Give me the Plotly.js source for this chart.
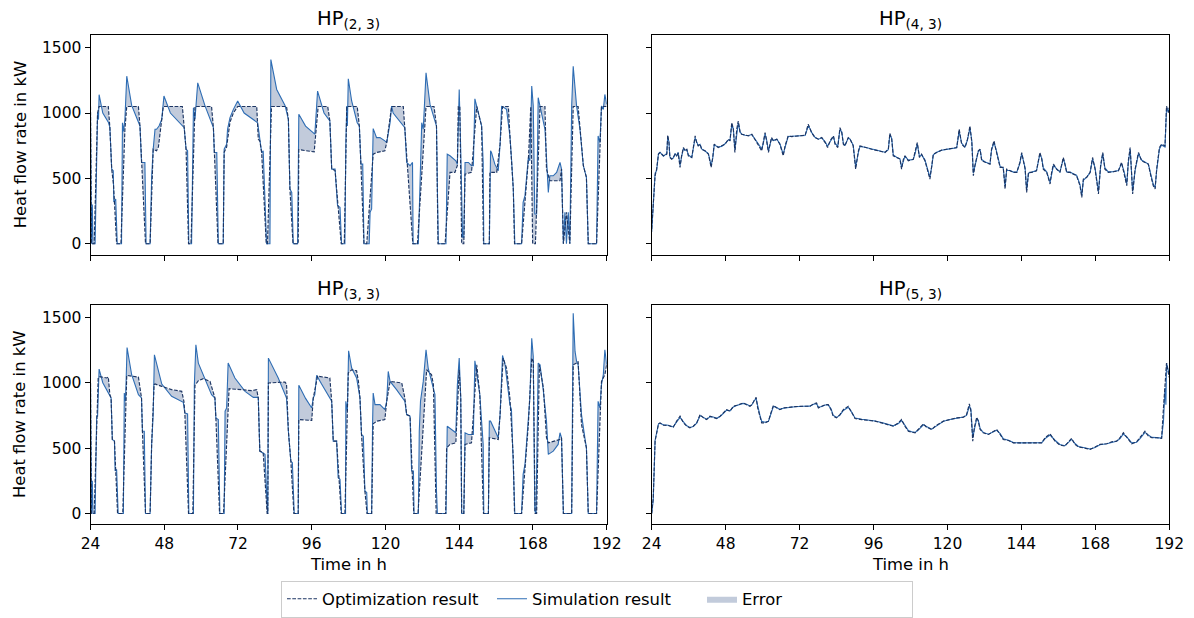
<!DOCTYPE html>
<html><head><meta charset="utf-8">
<script src="https://cdn.plot.ly/plotly-3.0.1.min.js"></script>
<style>html,body{margin:0;padding:0;background:#fff}#chart{width:1194px;height:618px}</style>
</head><body><div id="chart"></div>
<script>
// ---------- data (time in h, heat flow rate in kW) ----------
const hourTicks = [24, 48, 72, 96, 120, 144, 168, 192];
const powerTicks = [0, 500, 1000, 1500];
const panelTitles = ['HP<sub>(2, 3)</sub>', 'HP<sub>(4, 3)</sub>', 'HP<sub>(3, 3)</sub>', 'HP<sub>(5, 3)</sub>'];
const legendNames = ['Optimization result', 'Simulation result', 'Error'];

// HP(2,3): [t, value]
const opt23 = [[24,1050],[24.3,0],[25.2,0],[26.3,1000],[26.8,1050],[29.8,1050],[30.3,890],[30.9,571],[31.5,450],[32.5,0],[33.9,0],[35.2,876],[35.8,1050],[39.6,1050],[40.1,900],[40.6,622],[41.9,0],[43.4,0],[44.4,723],[45.5,711],[46.1,740],[47.7,1050],[53.9,1050],[54.5,888],[55.1,723],[55.9,0],[56.7,0],[58.0,1050],[63.4,1050],[64.0,888],[64.3,698],[65.5,0],[67.2,0],[67.5,700],[68.3,740],[69.4,930],[70.5,1000],[71.9,1050],[78.1,1050],[78.6,800],[79.1,787],[79.7,698],[81.2,0],[81.6,0],[82.9,1050],[87.8,1050],[88.4,952],[88.9,419],[89.9,0],[91.6,0],[91.8,720],[96.8,703],[98.1,1050],[101.2,1050],[101.9,939],[102.5,571],[103.6,560],[105.6,0],[106.6,0],[107.4,1050],[110.8,1050],[111.5,901],[112.0,609],[113.0,0],[113.9,0],[116.0,685],[117.1,698],[119.8,711],[120.4,774],[122.0,1050],[125.8,1050],[126.3,888],[126.9,622],[128.9,0],[130.4,0],[133.2,1050],[135.8,1050],[136.6,901],[137.1,0],[139.4,0],[141.0,546],[142.6,546],[143.4,600],[143.7,1050],[144.2,1050],[144.8,0],[145.5,0],[145.9,533],[148.0,546],[149.7,1050],[151.3,900],[151.9,0],[153.8,0],[154.0,546],[156.2,546],[157.3,762],[158.1,1050],[160.0,1050],[160.5,825],[161.6,419],[162.0,0],[164.3,0],[166.5,640],[167.3,1050],[167.9,0],[168.8,0],[170.3,1050],[171.9,1050],[172.4,571],[173.5,482],[176.8,482],[177.3,571],[177.9,0],[178.9,241],[180.0,0],[181.1,1050],[182.7,1050],[183.3,876],[184.4,597],[185.4,508],[186.0,0],[188.7,0],[190.3,1050],[192,1050]];
const sim23 = [[24,1000],[24.3,0],[24.6,300],[24.8,0],[25.5,0],[25.9,500],[26.3,1000],[26.6,950],[26.8,1140],[28.0,1000],[29.8,930],[30.3,890],[30.9,571],[31.4,558],[31.6,320],[32.2,343],[32.7,0],[34.1,0],[34.4,925],[34.7,860],[35.2,952],[35.8,1282],[37.4,1058],[40.1,901],[40.6,622],[41.7,622],[42.1,0],[43.4,0],[43.9,508],[44.4,723],[45.0,876],[45.5,876],[46.3,901],[47.2,952],[47.9,1130],[50.0,1000],[54.5,888],[55.1,723],[55.6,711],[56.0,0],[56.9,0],[57.5,1041],[58.0,952],[58.9,1231],[61.3,1053],[64.0,888],[64.3,698],[65.1,698],[65.6,0],[67.2,0],[67.5,723],[68.3,762],[68.6,876],[69.4,965],[70.5,1028],[71.9,1092],[74.0,1000],[78.4,926],[79.1,787],[79.7,698],[80.2,711],[81.3,0],[82.4,0],[82.7,1409],[84.6,1180],[87.3,1058],[88.4,952],[88.9,419],[89.5,393],[90.0,0],[91.4,0],[91.8,990],[94.0,900],[97.0,838],[97.6,1053],[97.9,1168],[100.0,1000],[101.9,939],[102.5,571],[103.6,571],[104.4,292],[105.2,279],[105.7,0],[106.8,0],[107.1,762],[107.4,1053],[107.6,901],[107.9,1262],[109.0,1092],[110.8,926],[111.5,901],[112.0,609],[112.6,609],[113.0,0],[114.7,0],[115.0,241],[115.5,266],[116.0,881],[117.1,812],[118.2,812],[119.8,787],[120.4,774],[121.5,926],[122.0,1053],[122.5,1000],[126.3,888],[126.9,622],[128.0,597],[128.8,622],[129.0,0],[130.7,0],[131.2,393],[131.8,926],[132.3,876],[133.2,1307],[134.5,1066],[136.6,901],[136.9,419],[137.2,0],[139.7,0],[139.9,495],[140.1,685],[141.0,673],[142.1,647],[142.9,635],[143.4,609],[144.0,1180],[144.5,711],[145.1,51],[145.5,51],[145.9,622],[147.0,622],[148.0,597],[148.6,597],[149.1,1109],[151.3,901],[151.8,622],[152.0,0],[153.8,0],[154.2,711],[154.5,698],[155.6,609],[156.7,558],[157.3,762],[157.8,1053],[159.4,1028],[160.5,825],[161.1,622],[161.6,419],[162.1,0],[164.3,0],[164.8,317],[165.4,368],[166.5,660],[167.0,635],[167.6,1206],[168.1,1053],[168.6,228],[169.2,228],[169.7,1117],[170.3,1053],[171.9,876],[172.4,660],[173.0,393],[173.5,520],[174.6,520],[175.7,546],[176.8,622],[177.3,571],[177.9,0],[178.4,241],[178.9,0],[179.5,241],[180.0,0],[180.6,1053],[181.1,1358],[182.2,1053],[183.3,876],[184.4,597],[185.4,508],[186.0,0],[188.7,0],[189.2,825],[189.8,774],[190.3,1053],[190.9,1028],[191.4,1142],[192,1066]];

// HP(3,3): [t, value]
const opt33 = [[24,998],[24.3,0],[25.2,0],[26.5,1036],[27.1,1046],[29.3,1036],[29.8,1043],[30.3,909],[30.7,883],[31.1,566],[31.8,553],[32.8,0],[34.5,0],[35.8,1056],[39.6,1043],[40.6,883],[40.9,629],[41.9,0],[43.4,0],[43.9,528],[44.7,985],[45.0,990],[47.2,972],[50.4,947],[53.7,934],[54.4,858],[54.7,769],[55.9,0],[57.3,0],[58.0,980],[59.1,1015],[60.7,1031],[62.9,1010],[64.0,909],[64.5,883],[64.8,731],[66.0,0],[67.3,0],[69.1,954],[73.2,947],[76.4,939],[78.1,947],[78.6,883],[79.1,477],[80.2,464],[81.5,0],[81.7,0],[81.9,998],[87.3,1005],[87.8,990],[88.4,629],[89.2,401],[90.2,0],[91.6,0],[91.8,718],[96.0,711],[96.5,883],[97.9,1050],[101.9,1036],[102.5,858],[103.0,553],[104.1,553],[105.6,0],[106.8,0],[107.9,1074],[109.0,1099],[110.6,1091],[111.2,1010],[111.7,883],[112.2,604],[113.3,172],[114.0,0],[115.5,0],[116.0,685],[117.1,705],[119.8,718],[120.4,858],[121.5,1010],[125.3,998],[126.3,883],[126.9,756],[128.0,744],[129.2,0],[130.6,0],[133.4,1099],[135.0,1061],[135.6,985],[136.5,0],[139.6,0],[139.9,502],[141.0,528],[142.9,540],[143.4,800],[144.0,1099],[144.5,883],[144.8,0],[145.5,0],[145.9,528],[148.0,540],[149.7,1137],[150.7,909],[151.9,0],[153.5,0],[153.8,579],[156.7,566],[157.3,756],[158.3,1188],[159.4,1112],[160.5,883],[161.6,426],[162.0,0],[164.3,0],[166.5,680],[167.6,1188],[168.1,1163],[168.7,0],[169.2,0],[170.1,1137],[171.4,960],[172.4,579],[173.0,540],[176.8,566],[177.3,579],[177.9,0],[180.6,0],[181.1,1137],[182.2,1150],[182.7,1163],[183.8,680],[185.4,502],[186.0,0],[188.7,0],[190.3,1010],[191.4,1061],[192,1137]];
const sim33 = [[24,998],[24.3,0],[24.6,250],[24.8,0],[25.5,0],[26.0,744],[26.3,744],[26.8,1104],[28.0,1000],[30.3,909],[30.7,883],[31.1,566],[31.8,553],[32.0,325],[32.5,337],[33.0,0],[34.7,0],[35.0,921],[35.4,858],[35.9,1269],[37.4,1061],[39.6,909],[40.6,883],[40.9,629],[41.5,629],[41.9,0],[43.4,0],[43.9,528],[44.4,756],[44.8,1213],[47.2,990],[50.4,896],[54.2,850],[54.7,769],[55.6,761],[56.0,0],[57.5,0],[57.8,985],[58.3,1290],[59.1,1150],[60.7,1061],[63.4,909],[64.5,883],[64.8,731],[65.6,718],[66.1,0],[67.5,0],[67.8,782],[68.3,807],[68.8,1150],[71.0,1036],[74.3,934],[77.0,888],[78.6,888],[79.1,477],[80.2,464],[80.8,452],[81.6,0],[81.7,0],[81.9,1188],[82.9,1137],[85.1,1036],[87.8,883],[88.4,629],[89.2,401],[89.7,388],[90.3,0],[91.6,0],[91.8,980],[94.0,880],[96.0,807],[96.5,883],[97.0,909],[97.6,1056],[99.2,990],[102.5,858],[103.0,553],[104.1,553],[104.6,274],[105.2,261],[105.7,0],[107.0,0],[107.1,858],[107.6,782],[108.0,1244],[109.0,1112],[110.6,1036],[111.2,934],[111.7,883],[112.2,604],[112.8,591],[113.3,172],[113.9,160],[114.1,0],[115.5,0],[115.8,680],[116.0,921],[116.6,832],[118.2,832],[119.8,794],[120.4,858],[120.9,1086],[121.5,1010],[123.6,947],[126.3,858],[126.9,756],[128.0,744],[128.5,325],[129.1,325],[129.3,0],[130.7,0],[131.0,629],[131.4,858],[132.3,1010],[133.2,1251],[133.9,1112],[135.6,960],[136.1,909],[136.6,172],[136.9,0],[139.7,0],[139.9,502],[140.1,667],[141.5,642],[142.9,617],[143.4,985],[144.0,1188],[144.5,883],[144.8,0],[145.5,0],[145.9,617],[147.0,604],[148.6,604],[149.1,1168],[150.7,909],[151.8,528],[152.0,0],[153.5,0],[153.8,706],[154.2,706],[155.1,655],[156.7,579],[157.3,756],[158.1,1208],[158.9,1137],[160.5,832],[161.0,794],[161.6,426],[162.1,0],[164.3,0],[164.8,299],[165.4,375],[166.5,680],[167.0,883],[167.6,1340],[168.1,1200],[168.6,20],[169.0,0],[169.7,1150],[170.3,1137],[171.4,934],[172.4,706],[173.0,452],[174.6,477],[176.2,528],[176.8,617],[177.3,579],[177.9,0],[180.6,0],[181.1,1531],[181.7,1239],[182.2,1163],[182.7,1137],[183.8,756],[184.9,579],[185.4,502],[186.0,0],[188.7,0],[189.2,858],[189.8,807],[190.3,985],[190.9,1061],[191.4,1251],[192,1137]];

// HP(4,3): [t, optimization, simulation]
const hp43 = [[24,114,90],[24.5,317,300],[25.1,520,540],[25.6,571,560],[26.2,685,690],[26.7,698,700],[27.8,673,670],[28.9,685,690],[29.2,830,820],[29.6,774,780],[29.9,660,665],[30.5,647,650],[31.0,660,655],[31.6,685,690],[32.1,673,670],[32.6,693,700],[33.2,584,600],[33.7,673,665],[34.3,736,730],[34.8,711,715],[35.4,723,720],[35.9,673,680],[37.0,660,660],[38.1,825,810],[38.6,774,780],[39.1,749,750],[39.7,762,760],[40.2,723,725],[41.3,711,710],[42.4,685,690],[43.3,584,600],[43.8,660,650],[44.3,762,755],[45.6,736,740],[46.7,749,745],[47.8,762,765],[48.9,800,795],[49.4,787,790],[50.0,927,910],[50.5,876,880],[51.0,698,720],[51.6,876,860],[52.1,939,925],[52.7,850,855],[53.2,838,840],[54.3,830,830],[55.4,825,828],[56.5,838,835],[57.5,800,805],[58.6,762,765],[59.7,711,725],[60.2,774,765],[60.8,850,840],[61.3,787,795],[61.9,698,710],[62.4,762,755],[62.9,812,805],[63.5,787,790],[64.6,800,800],[65.6,762,765],[66.7,673,685],[67.3,749,740],[68.3,825,820],[69.4,820,822],[71.6,825,825],[73.8,830,828],[74.8,914,900],[75.4,876,880],[75.9,850,852],[77.0,812,815],[78.1,800,800],[79.2,812,810],[80.3,774,780],[81.1,736,745],[81.9,787,780],[83.0,825,820],[83.5,762,770],[84.4,736,745],[85.1,888,875],[85.7,850,855],[86.2,762,770],[86.7,749,750],[87.8,812,808],[88.4,800,800],[89.4,749,755],[90.2,571,590],[91.1,711,700],[91.6,749,745],[93.2,736,738],[95.4,723,725],[97.6,711,712],[99.7,698,700],[100.8,723,720],[101.3,845,835],[101.9,800,805],[102.4,673,680],[103.5,660,662],[104.6,647,650],[105.1,571,585],[105.7,647,640],[106.2,673,670],[107.3,635,640],[108.9,647,645],[109.5,698,690],[110.2,774,765],[110.9,660,668],[111.6,685,680],[112.7,635,640],[113.8,546,560],[114.3,495,510],[114.9,597,590],[115.4,685,680],[116.5,698,700],[118.1,716,715],[119.7,723,722],[121.4,728,728],[123.0,736,735],[123.8,876,860],[124.6,762,770],[125.7,736,740],[126.5,800,795],[127.3,901,885],[127.9,774,790],[128.4,520,540],[128.9,597,590],[130.0,711,705],[130.6,723,720],[131.1,635,645],[132.2,622,625],[133.8,609,612],[134.3,723,715],[135.1,787,775],[135.8,711,720],[136.5,635,640],[137.1,584,590],[138.1,584,580],[138.7,419,440],[139.2,571,560],[140.3,558,560],[141.4,546,548],[142.5,546,548],[143.5,622,615],[144.1,698,690],[145.2,571,580],[145.7,393,410],[146.3,546,540],[147.3,546,548],[148.9,558,560],[150.0,698,685],[150.6,647,655],[151.1,571,580],[152.2,546,550],[153.3,457,470],[153.8,546,540],[154.4,609,600],[155.4,571,575],[156.5,546,550],[157.6,660,650],[158.1,609,615],[158.7,546,550],[159.8,546,548],[160.8,533,535],[161.9,520,525],[163.0,444,455],[163.6,355,370],[164.1,495,485],[165.2,508,510],[166.3,546,545],[167.1,660,650],[167.9,571,580],[169.0,381,400],[169.7,597,585],[170.4,698,690],[171.1,571,580],[172.2,546,550],[173.8,551,552],[175.5,558,560],[176.5,622,615],[177.3,546,555],[178.2,444,460],[178.7,635,620],[179.3,736,725],[179.8,520,535],[180.1,381,400],[180.9,571,560],[182.0,698,690],[183.0,635,640],[184.1,622,625],[185.2,609,610],[186.0,520,530],[186.8,444,455],[187.4,419,430],[187.9,571,560],[188.8,736,725],[189.5,762,755],[190.6,749,740],[191.1,1053,1030],[191.7,1003,1010],[192,1040,1040]];

// HP(5,3): [t, optimization, simulation]
const hp53 = [[24,0,0],[24.5,122,100],[25.1,553,560],[25.6,629,630],[26.2,685,685],[26.7,693,690],[27.8,675,678],[29.4,673,675],[31.0,660,662],[32.1,706,700],[33.2,744,735],[34.3,693,700],[35.4,667,670],[36.4,655,658],[37.5,667,665],[38.6,693,690],[39.7,756,748],[40.8,731,735],[41.8,718,720],[42.9,744,740],[44.0,736,738],[45.1,726,728],[46.2,744,742],[47.3,769,766],[48.3,794,790],[49.4,782,785],[50.5,820,815],[51.6,827,825],[52.7,838,835],[53.7,845,842],[54.8,832,835],[55.9,820,822],[56.5,832,830],[57.3,871,865],[57.9,888,875],[58.4,807,815],[59.2,731,745],[59.7,693,705],[60.8,693,698],[61.9,706,705],[62.7,769,760],[63.5,827,818],[64.6,807,810],[65.6,794,796],[66.7,807,805],[68.3,812,812],[70.5,817,816],[73.2,820,820],[75.4,820,821],[76.5,838,835],[77.5,845,840],[78.1,807,812],[79.2,820,818],[80.3,832,830],[81.3,832,830],[82.2,794,800],[82.9,744,752],[84.0,731,735],[85.1,756,752],[86.2,794,788],[87.8,820,812],[88.9,769,775],[90.0,726,730],[92.2,718,720],[94.3,713,714],[96.5,706,707],[98.6,693,695],[100.8,680,682],[102.4,667,670],[104.1,693,688],[105.1,718,710],[106.2,667,675],[107.3,629,635],[108.4,622,625],[109.5,617,620],[110.5,642,638],[112.2,685,678],[113.2,660,665],[114.9,642,645],[116.0,667,662],[117.6,693,690],[118.7,706,705],[120.8,718,718],[123.0,731,730],[125.2,736,738],[126.2,756,750],[127.1,838,820],[127.6,782,800],[128.2,553,580],[128.7,655,640],[129.5,736,725],[130.0,706,712],[130.6,642,650],[131.6,617,620],[133.3,604,606],[134.9,629,625],[136.0,642,636],[137.1,604,610],[138.1,566,572],[139.8,558,560],[141.4,540,542],[143.5,540,540],[145.7,540,541],[147.9,540,540],[150.6,540,542],[151.7,579,572],[153.3,609,600],[154.9,553,560],[156.5,523,528],[158.1,515,518],[159.2,548,542],[160.3,574,566],[161.4,528,535],[162.5,508,512],[164.1,502,504],[166.3,490,493],[167.9,508,505],[169.5,528,525],[171.7,533,533],[173.3,548,545],[174.9,553,552],[176.0,579,572],[177.1,617,608],[178.2,579,585],[179.8,533,540],[181.4,548,545],[182.5,579,572],[184.1,629,620],[185.2,592,598],[186.3,579,582],[187.9,579,580],[189.5,574,576],[190.1,807,700],[190.6,1010,960],[190.9,1090,832],[191.1,1150,1150],[191.7,1074,1090],[192,1040,1060]];

// ---------- drawing ----------
const W = 1194, H = 618;
const SIM = '#2e6db4', OPT = '#1c3563', FILL = '#c2cbdb';
const col = (rows, i) => rows.map(r => r[i]);

function panel(xa, ya, optT, optV, simT, simV, first) {
  return [
    {x: optT, y: optV, xaxis: xa, yaxis: ya, mode: 'lines', line: {width: 0}, showlegend: false, hoverinfo: 'skip'},
    {x: simT, y: simV, xaxis: xa, yaxis: ya, mode: 'lines', line: {width: 0, color: FILL}, fill: 'tonexty', fillcolor: FILL,
     name: legendNames[2], showlegend: first, legendrank: 3, hoverinfo: 'skip'},
    {x: simT, y: simV, xaxis: xa, yaxis: ya, mode: 'lines', line: {color: SIM, width: 1.1},
     name: legendNames[1], showlegend: first, legendrank: 2, hoverinfo: 'skip'},
    {x: optT, y: optV, xaxis: xa, yaxis: ya, mode: 'lines', line: {color: OPT, width: 1.15, dash: '3.7px,1.6px'},
     name: legendNames[0], showlegend: first, legendrank: 1, hoverinfo: 'skip'}
  ];
}

const traces = [].concat(
  panel('x', 'y', col(opt23, 0), col(opt23, 1), col(sim23, 0), col(sim23, 1), true),
  panel('x2', 'y2', col(hp43, 0), col(hp43, 1), col(hp43, 0), col(hp43, 2), false),
  panel('x3', 'y3', col(opt33, 0), col(opt33, 1), col(sim33, 0), col(sim33, 1), false),
  panel('x4', 'y4', col(hp53, 0), col(hp53, 1), col(hp53, 0), col(hp53, 2), false)
);

const base = {showline: true, mirror: true, linecolor: '#000', linewidth: 1, ticks: 'outside', ticklen: 5,
  tickwidth: 1, tickcolor: '#000', showgrid: false, zeroline: false, fixedrange: true,
  tickfont: {size: 15.5, color: '#000'}};
const xL = [90.5 / W, 606.7 / W], xR = [651.7 / W, 1169.3 / W];
const yT = [1 - 256 / H, 1 - 35 / H], yB = [1 - 527 / H, 1 - 306 / H];
const xax = (dom, anchor, labels) => Object.assign({}, base, {domain: dom, anchor: anchor, range: [24, 192],
  tickmode: 'array', tickvals: hourTicks, ticktext: hourTicks.map(String), showticklabels: labels});
const yax = (dom, anchor, labels) => Object.assign({}, base, {domain: dom, anchor: anchor, range: [-84, 1598],
  tickmode: 'array', tickvals: powerTicks, ticktext: powerTicks.map(String), showticklabels: labels});

const cxL = (xL[0] + xL[1]) / 2, cxR = (xR[0] + xR[1]) / 2;
const ann = (text, x, y, size, angle) => ({text: text, x: x, y: y, xref: 'paper', yref: 'paper', showarrow: false,
  xanchor: 'center', yanchor: 'middle', textangle: angle || 0, font: {size: size, color: '#000'}});

const layout = {
  width: W, height: H, margin: {l: 0, r: 0, t: 0, b: 0},
  paper_bgcolor: '#fff', plot_bgcolor: '#fff',
  font: {family: 'DejaVu Sans, sans-serif', color: '#000'},
  xaxis: xax(xL, 'y', false), yaxis: yax(yT, 'x', true),
  xaxis2: xax(xR, 'y2', false), yaxis2: yax(yT, 'x2', false),
  xaxis3: xax(xL, 'y3', true), yaxis3: yax(yB, 'x3', true),
  xaxis4: xax(xR, 'y4', true), yaxis4: yax(yB, 'x4', false),
  showlegend: true,
  legend: {orientation: 'h', traceorder: 'normal', x: 0.5, xanchor: 'center', y: 1 - 602 / H, yanchor: 'middle',
    entrywidth: 165, entrywidthmode: 'pixels',
    bordercolor: '#cccccc', borderwidth: 1, bgcolor: '#fff', font: {size: 16.4, color: '#000'}},
  annotations: [
    ann(panelTitles[0], cxL, 1 - 20 / H, 19.5), ann(panelTitles[1], cxR, 1 - 20 / H, 19.5),
    ann(panelTitles[2], cxL, 1 - 291 / H, 19.5), ann(panelTitles[3], cxR, 1 - 291 / H, 19.5),
    ann('Heat flow rate in kW', 20 / W, 1 - 146 / H, 16.4, -90),
    ann('Heat flow rate in kW', 20 / W, 1 - 417 / H, 16.4, -90),
    ann('Time in h', cxL, 1 - 567 / H, 16.4), ann('Time in h', cxR, 1 - 567 / H, 16.4)
  ]
};

Plotly.newPlot('chart', traces, layout, {displayModeBar: false, staticPlot: true});
</script>
</body></html>
